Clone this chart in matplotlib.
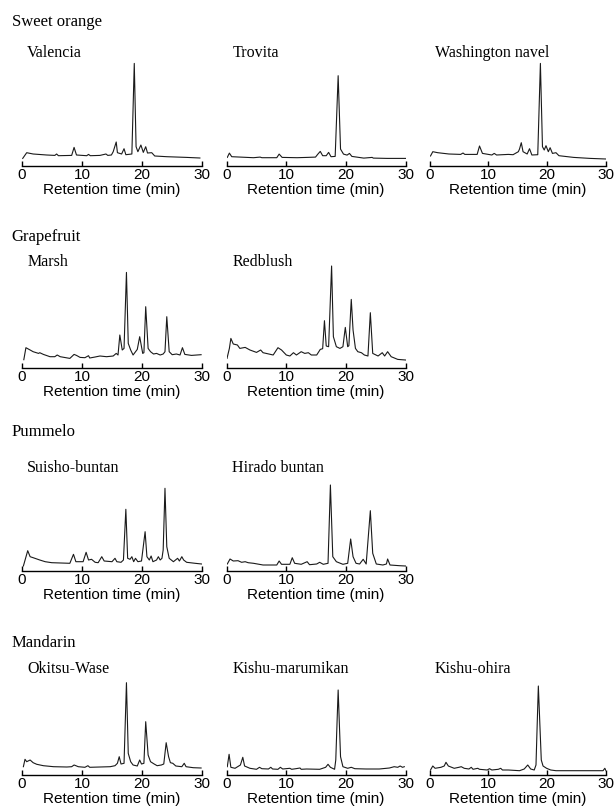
import matplotlib
matplotlib.use("Agg")
import matplotlib.pyplot as plt

# Traces: retention time (min) and detector response (arbitrary units)
valencia_t = [0.17, 0.83, 1.9, 4.15, 5.5, 5.8, 6.1, 8.3, 8.7, 9.1, 10.8, 11.1, 11.4, 13.0, 14.0, 14.3, 14.9, 15.2,
              15.7, 15.9, 16.6, 17.0, 17.3, 18.3, 18.7, 19.0, 19.3, 19.8, 20.2, 20.6, 20.9, 21.6, 22.1, 24.1, 27.4, 29.6]
valencia_y = [7.3, 13, 11.7, 10.7, 10.3, 11.7, 10, 10.3, 18.3, 10.7, 10, 11.3, 10, 10.3, 11.7, 10.3, 10.7, 14,
              23.7, 13, 11.7, 17, 11, 11.7, 102.3, 19, 14, 20.7, 13.3, 19, 12.7, 13, 9.7, 9, 8.3, 7.7]

trovita_t = [0.1, 0.45, 0.84, 4.5, 5.6, 5.9, 8.4, 8.8, 9.3, 11.8, 13.5, 14.9, 15.3, 15.7, 16.1, 16.7, 17.1, 17.5,
             18.2, 18.7, 19.1, 19.6, 20.2, 20.6, 21.0, 23.0, 24.4, 24.6, 26.9, 30.0]
trovita_y = [8.3, 12.6, 9, 8, 8.6, 8, 8, 11.6, 8.3, 8, 8.3, 8.6, 11.6, 14.3, 10, 10, 13.3, 9,
             9.3, 90, 16.6, 11.6, 10.6, 12.3, 9.3, 7.6, 8.3, 7.6, 7.3, 7.3]

navel_t = [0.17, 0.56, 1.4, 3.3, 5.3, 5.7, 6.0, 8.1, 8.5, 9.0, 10.6, 11.0, 11.4, 13.4, 14.2, 15.1, 15.3, 15.6,
           15.9, 16.6, 17.0, 17.4, 18.4, 18.85, 19.2, 19.5, 19.8, 20.2, 20.5, 20.9, 21.5, 22.0, 24.5, 27.3, 30.0]
navel_y = [9.7, 14, 13, 11.7, 11.3, 12.7, 11.3, 11.3, 19.7, 12.3, 10.7, 12.3, 10.7, 11.3, 11, 14, 16.7, 23,
           14, 11.7, 17, 10.7, 11, 102.3, 19, 15.7, 20, 14, 18, 12.3, 13, 10, 8.3, 7.3, 6.7]

marsh_t = [0.35, 0.7, 1.4, 1.9, 2.8, 3.0, 3.6, 4.7, 5.5, 5.9, 6.4, 8.0, 8.7, 9.1, 9.7, 10.5, 11.1, 11.3, 12.2, 13.0,
           14.1, 15.2, 15.7, 16.0, 16.3, 16.7, 17.0, 17.4, 17.7, 18.1, 18.5, 19.2, 19.6, 20.1, 20.3, 20.6, 21.0,
           21.4, 21.9, 22.4, 23.0, 23.5, 23.8, 24.1, 24.5, 25.0, 25.7, 26.3, 26.7, 27.1, 28.2, 29.1, 29.8]
marsh_y = [8, 20, 17.7, 16, 14.3, 15, 13.3, 11, 11, 12.7, 11, 9.3, 13.3, 12.3, 10.3, 10, 12, 9.7, 10.7, 11.7,
           11, 11.7, 14.3, 12.7, 32.7, 17.7, 19.3, 95.3, 24.3, 17.7, 12.7, 18.3, 31, 14.3, 15, 61, 19.3,
           16, 13.7, 14.3, 12.7, 13.7, 16, 51, 16, 13, 13.7, 12.7, 20, 13.3, 12.3, 12.7, 13]

redblush_t = [0.05, 0.45, 0.7, 1.1, 1.8, 2.2, 3.1, 3.9, 5.0, 5.7, 6.1, 7.8, 8.6, 9.2, 10.0, 10.6, 11.2, 11.7, 12.5,
              13.1, 13.7, 14.2, 15.1, 15.7, 16.1, 16.4, 16.7, 17.1, 17.6, 17.9, 18.4, 19.0, 19.5, 19.9, 20.3, 20.5,
              20.9, 21.2, 21.6, 22.0, 22.6, 23.1, 23.7, 24.1, 24.5, 25.4, 26.1, 26.5, 27.0, 27.6, 28.7, 30.0]
redblush_y = [9.3, 19.3, 29.3, 23.7, 22.7, 19.3, 20.3, 17.7, 15.3, 17.7, 15, 12.7, 20, 17.7, 12.7, 11.7, 15, 12.7, 16,
              14.3, 15, 12.7, 12.7, 18.3, 19, 47, 21.7, 21, 101.7, 31, 21, 19.3, 21, 40.3, 21, 22,
              68.3, 37.7, 19.3, 16, 15, 12.7, 11.7, 55, 14.3, 11.7, 15, 11.7, 16, 11, 8.3, 7.7]

suisho_t = [0.28, 1.0, 1.4, 1.9, 3.0, 3.9, 5.0, 8.0, 8.6, 9.0, 10.2, 10.7, 11.1, 11.6, 12.2, 12.7, 13.3, 13.7, 15.0,
            15.5, 15.8, 16.5, 16.9, 17.3, 17.6, 18.0, 18.3, 18.6, 18.9, 19.3, 19.9, 20.5, 20.8, 21.2, 21.5, 21.8,
            22.4, 22.7, 23.0, 23.3, 23.5, 23.8, 24.1, 24.5, 25.2, 25.9, 26.2, 26.6, 26.9, 27.4, 28.8, 29.9]
suisho_y = [5, 20.3, 14.3, 13.3, 11, 9.3, 8.3, 7.7, 16.7, 9.3, 9.3, 18.7, 11, 11.7, 8.7, 8.3, 14.3, 10, 9.3,
            12.7, 9.3, 8.7, 11, 61.7, 12.7, 11.7, 14.3, 9.3, 12.7, 9.3, 10, 39.3, 14.3, 11, 15, 9.3,
            11, 14.3, 11, 12.7, 21, 82.7, 24.3, 12.7, 9.3, 12.7, 10, 14.3, 11, 8.7, 7.7, 7]

hirado_t = [0.1, 0.56, 1.1, 1.9, 2.5, 3.1, 3.6, 4.5, 6.1, 8.4, 8.8, 9.2, 10.6, 11.0, 11.4, 12.5, 13.5, 13.9, 15.1,
            15.6, 16.2, 17.0, 17.4, 17.8, 18.4, 19.5, 20.3, 20.8, 21.2, 21.7, 22.3, 22.9, 23.4, 24.1, 24.5, 25.1,
            26.2, 26.8, 27.0, 27.4, 29.0, 30.0]
hirado_y = [7, 12, 10, 10.3, 8.7, 9.3, 8.3, 7.7, 6, 6, 10, 6.7, 6.7, 13.3, 7.7, 6.7, 9.3, 6.3, 7,
            8.7, 6.7, 7.7, 86, 14.3, 9.3, 6.7, 7.7, 32, 14.3, 7.7, 7, 11.7, 7, 60.3, 17.7, 7,
            6, 7, 12, 6, 5.3, 5]

okitsu_t = [0.28, 0.55, 0.83, 1.4, 1.9, 2.5, 3.6, 5.3, 7.5, 8.3, 8.7, 9.0, 9.4, 10.5, 11.0, 11.3, 13.0, 14.7, 15.5,
            15.9, 16.2, 16.5, 17.0, 17.4, 17.7, 18.1, 18.5, 19.2, 19.6, 19.9, 20.3, 20.6, 21.0, 21.4, 22.0, 22.5,
            23.2, 23.6, 24.0, 24.4, 24.7, 25.1, 25.6, 26.6, 27.0, 27.3, 28.5, 29.8]
okitsu_y = [8.3, 15.7, 13.3, 15, 12.3, 10.7, 9.3, 8.3, 8, 8.3, 10, 9.3, 8.3, 7.7, 9.3, 7.7, 8, 8.3, 9.3,
            11.7, 18.3, 11, 11.7, 92.3, 21.7, 13.3, 10, 9, 15, 11, 11.7, 53.3, 20, 13.3, 11, 9.3,
            10, 11, 32.3, 18.3, 12.3, 11.7, 9, 8.3, 11.7, 8.3, 7.3, 7]

marumikan_t = [0.1, 0.4, 0.7, 1.4, 2.3, 2.7, 3.0, 3.9, 5.0, 5.5, 5.9, 7.0, 7.4, 7.7, 8.6, 9.0, 9.4, 10.6, 10.9, 11.6,
               12.3, 12.5, 13.4, 15.6, 16.6, 17.0, 17.4, 18.1, 18.3, 18.7, 19.1, 19.5, 20.3, 20.9, 21.5, 23.4,
               25.6, 27.3, 28.1, 28.7, 29.1, 29.5, 29.8]
marumikan_y = [8.3, 20.7, 7.7, 6.7, 10, 17.7, 9, 6.7, 5.7, 7.7, 6.3, 6, 7.7, 6, 5.7, 7.7, 6, 6.7, 5.7, 6.3,
               7, 5.7, 6, 5.7, 7.7, 10.7, 7.7, 5.7, 15, 85, 18.3, 8.3, 6.7, 7.7, 6.3, 6,
               6, 7, 8.3, 7.7, 9, 7.7, 8.3]

ohira_t = [0.17, 0.56, 0.95, 1.95, 2.5, 2.8, 3.2, 4.2, 5.0, 5.4, 5.9, 6.7, 7.1, 7.4, 8.2, 8.5, 9.8, 10.2, 10.6, 11.7,
           12.1, 12.4, 13.4, 15.3, 16.1, 16.7, 17.2, 17.8, 18.1, 18.5, 19.0, 19.3, 19.9, 20.6, 21.5, 24.2, 28.1,
           29.5, 29.8, 30.0]
ohira_y = [5, 9, 6.7, 7.7, 9, 12.7, 9, 6.7, 7.7, 8.3, 6.7, 6, 7.7, 5.7, 6.7, 5.7, 5, 6.3, 5, 5.7,
           6.7, 5, 5, 4.3, 6, 10, 6, 5, 10, 89, 15, 9, 6.7, 5, 4.3, 4.3, 4.3,
           4.3, 6.7, 4.3]

groups = ["Sweet orange", "Grapefruit", "Pummelo", "Mandarin"]
cultivars = [["Valencia", "Trovita", "Washington navel"],
             ["Marsh", "Redblush"],
             ["Suisho-buntan", "Hirado buntan"],
             ["Okitsu-Wase", "Kishu-marumikan", "Kishu-ohira"]]
traces = {
    "Valencia": (valencia_t, valencia_y),
    "Trovita": (trovita_t, trovita_y),
    "Washington navel": (navel_t, navel_y),
    "Marsh": (marsh_t, marsh_y),
    "Redblush": (redblush_t, redblush_y),
    "Suisho-buntan": (suisho_t, suisho_y),
    "Hirado buntan": (hirado_t, hirado_y),
    "Okitsu-Wase": (okitsu_t, okitsu_y),
    "Kishu-marumikan": (marumikan_t, marumikan_y),
    "Kishu-ohira": (ohira_t, ohira_y),
}
xticks = [0, 10, 20, 30]

# layout in pixels (figure is 616 x 808)
W, H = 616, 808
col_left = [21.7, 226.7, 429.5]
col_right = [202.3, 405.5, 606.0]
row_axis_y = [165.7, 367.7, 571.0, 775.0]
group_y = [21.7, 236.7, 432.0, 643.0]
cultivar_y = [53.3, 261.7, 468.0, 669.0]
panel_h = 115

serif = "Liberation Serif"
sans = "Liberation Sans"

fig = plt.figure(figsize=(W / 100, H / 100), dpi=100)

for r, grp in enumerate(groups):
    fig.text(11.7 / W, 1 - group_y[r] / H, grp, family=serif, fontsize=12, va="center", ha="left")
    for c, name in enumerate(cultivars[r]):
        x0, x1 = col_left[c], col_right[c]
        y0 = row_axis_y[r]
        ax = fig.add_axes([x0 / W, 1 - y0 / H, (x1 - x0) / W, panel_h / H])
        t, y = traces[name]
        ax.plot(t, y, color="#1a1a1a", lw=0.8)
        ax.set_xlim(0, 30)
        ax.set_ylim(0, panel_h)
        for s in ["top", "left", "right"]:
            ax.spines[s].set_visible(False)
        ax.spines["bottom"].set_linewidth(1.0)
        ax.set_yticks([])
        ax.set_xticks(xticks)
        ax.set_xticklabels([str(v) for v in xticks], family=sans, fontsize=11)
        ax.tick_params(axis="x", direction="in", length=3.5, width=1.0, pad=1.5)
        ax.set_xlabel("Retention time (min)", family=sans, fontsize=11, labelpad=1)
        ax.patch.set_alpha(0)
        fig.text((x0 + 5.5) / W, 1 - cultivar_y[r] / H, name, family=serif, fontsize=11.5,
                 va="center", ha="left")

fig.savefig("out.png", dpi=100)
